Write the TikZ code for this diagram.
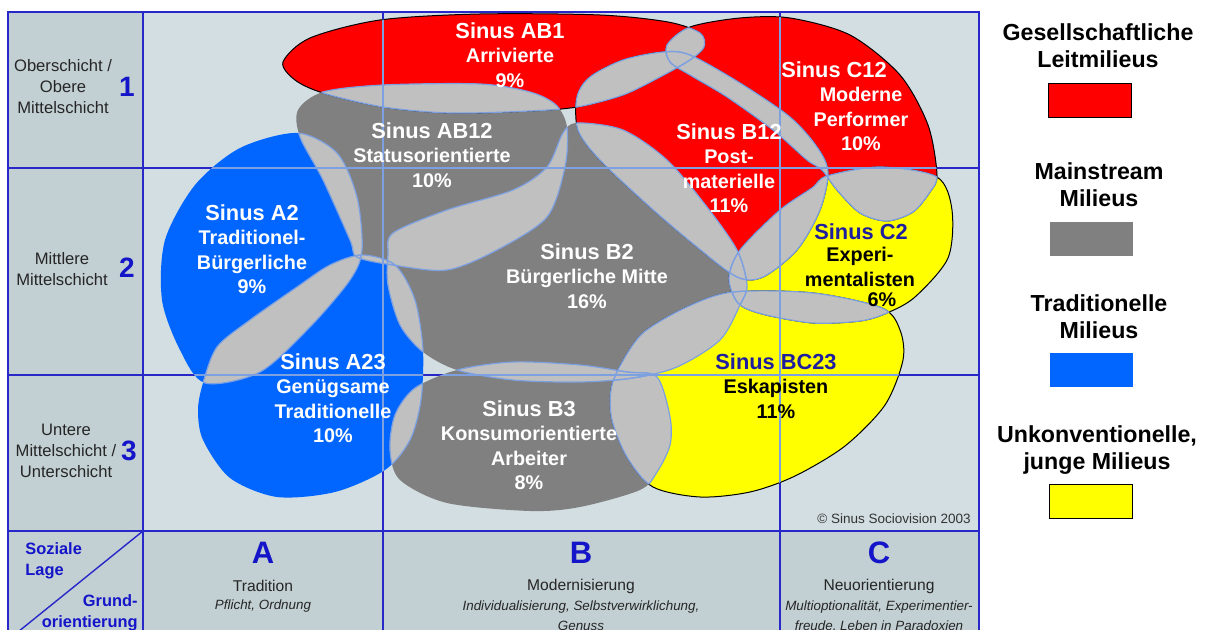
\documentclass[tikz,border=0pt]{standalone}
\usepackage{fontspec}
\setmainfont{Liberation Sans}
\usetikzlibrary{positioning}

\definecolor{feld}{RGB}{211,222,226}
\definecolor{kopf}{RGB}{194,207,211}
\definecolor{gitterblau}{RGB}{40,40,200}
\definecolor{hellblau}{RGB}{125,160,225}
\definecolor{milrot}{RGB}{255,0,0}
\definecolor{milgrau}{RGB}{128,128,128}
\definecolor{milblau}{RGB}{0,102,255}
\definecolor{milgelb}{RGB}{255,255,0}
\definecolor{schnittgrau}{RGB}{192,192,192}
\definecolor{zahlblau}{RGB}{20,20,200}
\definecolor{titelblau}{RGB}{30,30,160}

% Umrisse der Milieus (Pixel, y nach unten)
\def\pArriv{plot[smooth cycle] coordinates {(283,62) (310,38) (380,20) (480,14) (600,15) (668,22) (700,33) (704,47) (690,60) (660,77) (623,95) (577,107) (530,111) (450,113) (383,107) (323,93) (295,80)}}
\def\pStatus{plot[smooth cycle] coordinates {(298,110) (323,92) (383,85) (480,84) (530,92) (556,105) (567,127) (565,167) (547,217) (497,250) (447,270) (393,265) (357,257) (350,240) (323,180) (300,137)}}
\def\pTrad{plot[smooth cycle] coordinates {(297,133) (240,148) (195,185) (165,240) (162,300) (180,350) (205,383) (260,372) (310,327) (350,280) (362,250) (357,197) (337,153)}}
\def\pGenueg{plot[smooth cycle] coordinates {(203,383) (217,347) (250,320) (297,287) (330,265) (362,255) (395,265) (415,300) (423,350) (421,400) (410,440) (385,470) (335,492) (277,497) (230,478) (203,440) (198,410)}}
\def\pBuerg{plot[smooth cycle] coordinates {(393,233) (447,210) (513,190) (547,167) (563,133) (577,123) (623,130) (667,160) (707,207) (737,250) (747,285) (740,305) (720,340) (677,367) (633,378) (580,382) (513,380) (457,370) (423,352) (400,325) (388,285) (388,255)}}
\def\pKonsum{plot[smooth cycle] coordinates {(415,388) (457,370) (513,362) (580,365) (627,372) (657,377) (670,417) (670,445) (657,472) (640,490) (580,507) (530,511) (447,503) (400,480) (390,450) (395,415)}}
\def\pPostmat{plot[smooth cycle] coordinates {(577,97) (590,77) (623,60) (663,52) (690,55) (740,83) (790,117) (817,147) (828,172) (820,210) (797,250) (763,277) (737,277) (697,247) (650,207) (600,160) (578,130)}}
\def\pPerform{plot[smooth cycle] coordinates {(667,45) (690,27) (740,18) (790,18) (850,35) (900,75) (928,125) (937,175) (930,192) (913,212) (887,221) (860,213) (837,190) (822,170) (807,160) (773,130) (727,97) (690,75) (670,62)}}
\def\pExperi{plot[smooth cycle] coordinates {(827,176) (880,167) (937,177) (952,210) (948,258) (915,297) (887,313) (860,321) (813,323) (762,314) (738,303) (729,278) (740,250) (780,210) (812,188)}}
\def\pEskap{plot[smooth cycle] coordinates {(733,292) (813,293) (882,308) (900,330) (903,360) (885,405) (845,446) (795,476) (750,492) (700,497) (653,487) (627,457) (612,420) (611,390) (620,366) (643,333) (687,307)}}
\def\gitterlinien{(143,12) -- (143,650) (383,12) -- (383,650) (780,12) -- (780,650) (8,168) -- (979,168) (8,375) -- (979,375) (8,531) -- (979,531)}
\newcommand\titel[1]{{\fontsize{10.9}{12.2}\selectfont #1}}

\begin{document}
\begin{tikzpicture}[x=0.5pt, y=-0.5pt]
  \tikzset{
    gitter/.style={draw=gitterblau, line width=0.7pt},
    gitterhell/.style={draw=hellblau, line width=0.6pt},
    umriss/.style={draw=black, line width=0.5pt},
    linse/.style={draw=hellblau, line width=0.6pt},
    milieu/.style={align=center, inner sep=0pt, text=white, font=\bfseries\fontsize{9.9}{12.2}\selectfont},
    schicht/.style={align=center, inner sep=0pt, text=black!85, font=\fontsize{8.3}{10.5}\selectfont},
    ziffer/.style={inner sep=0pt, text=zahlblau, font=\bfseries\fontsize{14}{16}\selectfont},
    buchstabe/.style={inner sep=0pt, text=zahlblau, font=\bfseries\fontsize{15.5}{17}\selectfont},
    grund/.style={inner sep=0pt, text=black!85, font=\fontsize{7.8}{9}\selectfont},
    grundklein/.style={align=center, inner sep=0pt, text=black!85, font=\itshape\fontsize{6.7}{10}\selectfont},
    achse/.style={align=left, inner sep=0pt, text=zahlblau, font=\bfseries\fontsize{8.2}{10.5}\selectfont},
    legende/.style={align=center, inner sep=0pt, font=\bfseries\fontsize{11.6}{13.5}\selectfont},
    legbox/.style={minimum width=41.5pt, minimum height=17pt, inner sep=0pt},
  }
  \useasboundingbox (0,0) rectangle (1211,630);
  \clip (0,0) rectangle (1211,630);

  % Raster
  \fill[white] (0,0) rectangle (1211,630);
  \fill[kopf] (8,12) rectangle (979,650);
  \fill[feld] (143,12) rectangle (979,531);
  \draw[gitter] \gitterlinien;
  \draw[gitter] (8,12) rectangle (979,650);
  \draw[gitter] (143,531) -- (8,640);

  % Milieus
  \fill[milrot] \pArriv;
  \fill[milrot] \pPerform;
  \fill[milrot] \pPostmat;
  \fill[milgrau] \pStatus;
  \fill[milgrau] \pBuerg;
  \fill[milgrau] \pKonsum;
  \fill[milblau] \pTrad;
  \fill[milblau] \pGenueg;
  \fill[milgelb] \pExperi;
  \fill[milgelb] \pEskap;
  \foreach \p in {\pArriv, \pPerform, \pPostmat, \pExperi, \pEskap}
    \draw[umriss] \p;

  % Ueberschneidungen
  \foreach \a/\b in {\pArriv/\pStatus, \pArriv/\pPostmat, \pArriv/\pPerform, \pPostmat/\pPerform,
      \pPostmat/\pBuerg, \pPostmat/\pExperi, \pPerform/\pExperi, \pStatus/\pTrad, \pStatus/\pBuerg,
      \pStatus/\pGenueg, \pStatus/\pPostmat, \pTrad/\pGenueg, \pTrad/\pBuerg, \pGenueg/\pBuerg,
      \pGenueg/\pKonsum, \pBuerg/\pKonsum, \pBuerg/\pEskap, \pBuerg/\pExperi, \pKonsum/\pEskap,
      \pExperi/\pEskap}
  {
    \begin{scope}
      \clip \a;
      \fill[schnittgrau] \b;
    \end{scope}
  }
  \foreach \a/\b in {\pArriv/\pStatus, \pArriv/\pPostmat, \pArriv/\pPerform, \pPostmat/\pPerform,
      \pPostmat/\pBuerg, \pPostmat/\pExperi, \pPerform/\pExperi, \pStatus/\pTrad, \pStatus/\pBuerg,
      \pStatus/\pGenueg, \pStatus/\pPostmat, \pTrad/\pGenueg, \pTrad/\pBuerg, \pGenueg/\pBuerg,
      \pGenueg/\pKonsum, \pBuerg/\pKonsum, \pBuerg/\pEskap, \pBuerg/\pExperi, \pKonsum/\pEskap,
      \pExperi/\pEskap}
  {
    \begin{scope}
      \clip \a;
      \draw[linse] \b;
    \end{scope}
    \begin{scope}
      \clip \b;
      \draw[linse] \a;
    \end{scope}
  }
  \foreach \p in {\pArriv, \pPerform, \pPostmat, \pStatus, \pBuerg, \pKonsum, \pTrad, \pGenueg, \pExperi, \pEskap}
  {
    \begin{scope}
      \clip \p;
      \draw[gitterhell] \gitterlinien;
    \end{scope}
  }

  % Beschriftung der Milieus
  \node[milieu] (Arriv) at (510,55) {\titel{Sinus AB1}\\Arrivierte\\9\%};
  \node[milieu] (Status) at (432,155) {\titel{Sinus AB12}\\Statusorientierte\\10\%};
  \node[milieu] (Trad) at (252,249) {\titel{Sinus A2}\\Traditionel-\\Bürgerliche\\9\%};
  \node[milieu] (Genueg) at (333,398) {\titel{Sinus A23}\\Genügsame\\Traditionelle\\10\%};
  \node[milieu] (Buerg) at (587,276) {\titel{Sinus B2}\\Bürgerliche Mitte\\16\%};
  \node[milieu] (Postmat) at (729,168) {\titel{Sinus B12}\\Post-\\materielle\\11\%};
  \node[milieu] (Konsum) at (529,445) {\titel{Sinus B3}\\Konsumorientierte\\Arbeiter\\8\%};
  \node[milieu] (tPerform) at (834,70) {\titel{Sinus C12}};
  \node[milieu] (Perform) at (861,119) {Moderne\\Performer\\10\%};
  \node[milieu, text=titelblau] (tExperi) at (861,232) {\titel{Sinus C2}};
  \node[milieu, text=black] (Experi) at (860,267) {Experi-\\mentalisten};
  \node[milieu, text=black] (ExperiAnteil) at (882,300) {6\%};
  \node[milieu, text=black] (Eskap) at (776,386) {\titel{\color{titelblau}Sinus BC23}\\Eskapisten\\11\%};
  \node[anchor=east, inner sep=0pt, text=black!80, font=\fontsize{6.75}{8}\selectfont] (copy) at (971,519) {© Sinus Sociovision 2003};

  % Soziale Lage
  \node[schicht] (lage1) at (63,87) {Oberschicht /\\Obere\\Mittelschicht};
  \node[ziffer] (ziff1) at (127,87) {1};
  \node[schicht] (lage2) at (62,269) {Mittlere\\Mittelschicht};
  \node[ziffer] (ziff2) at (127,268) {2};
  \node[schicht] (lage3) at (66,451) {Untere\\Mittelschicht /\\Unterschicht};
  \node[ziffer] (ziff3) at (129,451) {3};
  \node[achse, anchor=north west] (soziale) at (25,542) {Soziale\\Lage};
  \node[achse, align=right, anchor=north east] (grundor) at (138,594) {Grund-\\orientierung};

  % Grundorientierung
  \node[buchstabe] (gA) at (263,553) {A};
  \node[grund] (tA) at (263,586) {Tradition};
  \node[grundklein] (kA) at (263,606) {Pflicht, Ordnung};
  \node[buchstabe] (gB) at (581,553) {B};
  \node[grund] (tB) at (581,586) {Modernisierung};
  \node[grundklein, anchor=north] (kB) at (581,600) {Individualisierung, Selbstverwirklichung,\\Genuss};
  \node[buchstabe] (gC) at (879,553) {C};
  \node[grund] (tC) at (879,586) {Neuorientierung};
  \node[grundklein, anchor=north] (kC) at (879,600) {Multioptionalität, Experimentier-\\freude, Leben in Paradoxien};

  % Legende
  \node[legende] (lLeit) at (1098,46) {Gesellschaftliche\\Leitmilieus};
  \node[legbox, fill=milrot, draw=black] (bLeit) at (1090,100) {};
  \node[legende] (lMain) at (1099,185) {Mainstream\\Milieus};
  \node[legbox, fill=milgrau] (bMain) at (1091,239) {};
  \node[legende] (lTrad) at (1099,317) {Traditionelle\\Milieus};
  \node[legbox, fill=milblau] (bTrad) at (1091,370) {};
  \node[legende] (lUnk) at (1097,450) {Unkonventionelle,\\junge Milieus};
  \node[legbox, fill=milgelb, draw=black] (bUnk) at (1091,501) {};
\end{tikzpicture}
\end{document}
